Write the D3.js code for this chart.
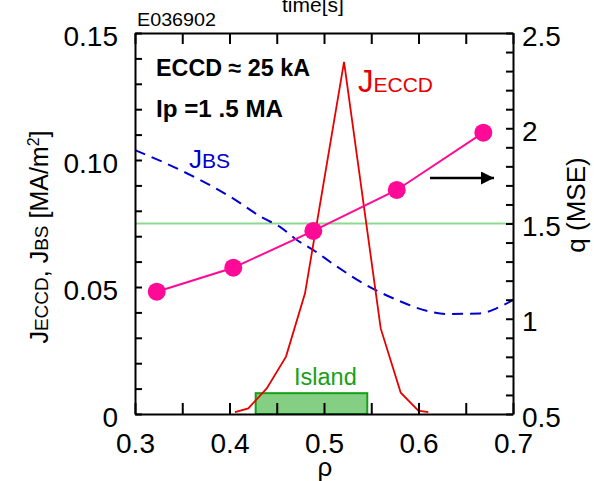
<!DOCTYPE html>
<html>
<head>
<meta charset="utf-8">
<script src="https://cdn.jsdelivr.net/npm/d3@7"></script>
<style>
  html, body { margin: 0; padding: 0; background: #fff; }
  svg { display: block; }
  text { font-family: "Liberation Sans", Arial, sans-serif; }
</style>
</head>
<body>
<svg id="chart" width="594" height="481"></svg>
<script>
// Normalised radius values and the current-density / safety-factor profiles
const qRho = [0.323, 0.404, 0.4887, 0.577, 0.6686];
const qValues = [1.142, 1.268, 1.461, 1.676, 1.977];

const bsRho = [0.30, 0.3476, 0.4005, 0.4354, 0.4534, 0.4714, 0.4884, 0.5138, 0.5413, 0.5772, 0.6122, 0.630, 0.665, 0.6825, 0.70];
const bsValues = [0.1039, 0.0961, 0.0856, 0.0772, 0.0737, 0.0685, 0.0646, 0.0580, 0.0515, 0.0449, 0.0403, 0.0394, 0.0396, 0.0416, 0.0449];

const eccdRho = [0.4058, 0.4199, 0.4394, 0.4598, 0.4799, 0.5212, 0.560, 0.5812, 0.5998, 0.6104];
const eccdValues = [0.0007, 0.0022, 0.0101, 0.0226, 0.0475, 0.1386, 0.0337, 0.0084, 0.0013, 0.0007];

const islandRange = [0.4277, 0.5458];
const qRational = 1.5;

const xTickValues = [0.3, 0.35, 0.4, 0.45, 0.5, 0.55, 0.6, 0.65, 0.7];
const xTickLabels = ["0.3", "0.4", "0.5", "0.6", "0.7"];
const jTickValues = d3.range(0, 16).map(i => i / 100);
const jTickLabels = ["0", "0.05", "0.10", "0.15"];
const qTickValues = d3.range(5, 26).map(i => i / 10);
const qTickLabels = ["0.5", "1", "1.5", "2", "2.5"];

const svg = d3.select("#chart");
const plotLeft = 135, plotRight = 513, plotTop = 33, plotBottom = 414;

const x = d3.scaleLinear().domain([0.3, 0.7]).range([plotLeft, plotRight]);
const yJ = d3.scaleLinear().domain([0, 0.15]).range([plotBottom, plotTop]);
const yQ = d3.scaleLinear().domain([0.5, 2.5]).range([plotBottom, plotTop]);

const red = "#e60000", blue = "#0000d0", pink = "#ff0a96", green = "#16a016";

// island region
svg.append("rect")
  .attr("x", x(islandRange[0]))
  .attr("y", yJ(0.0082))
  .attr("width", x(islandRange[1]) - x(islandRange[0]))
  .attr("height", yJ(0) - yJ(0.0082))
  .attr("fill", "#84cf84")
  .attr("stroke", green)
  .attr("stroke-width", 2);

svg.append("text")
  .attr("x", 294)
  .attr("y", 385)
  .attr("font-size", 23.5)
  .attr("fill", green)
  .text("Island");

// q = 1.5 surface
svg.append("line")
  .attr("x1", plotLeft).attr("x2", plotRight)
  .attr("y1", yQ(qRational)).attr("y2", yQ(qRational))
  .attr("stroke", "#8fd88f").attr("stroke-width", 2);

// bootstrap current
const lineBS = d3.line().x((d, i) => x(bsRho[i])).y(d => yJ(d)).curve(d3.curveMonotoneX);
svg.append("path")
  .attr("d", lineBS(bsValues))
  .attr("fill", "none").attr("stroke", blue)
  .attr("stroke-width", 2).attr("stroke-dasharray", "11,7");

// ECCD current
const lineE = d3.line().x((d, i) => x(eccdRho[i])).y(d => yJ(d));
svg.append("path")
  .attr("d", lineE(eccdValues))
  .attr("fill", "none").attr("stroke", red).attr("stroke-width", 1.8);

// q profile
const lineQ = d3.line().x((d, i) => x(qRho[i])).y(d => yQ(d));
svg.append("path")
  .attr("d", lineQ(qValues))
  .attr("fill", "none").attr("stroke", pink).attr("stroke-width", 2);
svg.selectAll("circle.q").data(qValues).enter().append("circle")
  .attr("class", "q")
  .attr("cx", (d, i) => x(qRho[i])).attr("cy", d => yQ(d))
  .attr("r", 9).attr("fill", pink);

// arrow pointing to the q axis
const defs = svg.append("defs");
defs.append("marker").attr("id", "head")
  .attr("viewBox", "0 0 10 10").attr("refX", 10).attr("refY", 5)
  .attr("markerWidth", 7).attr("markerHeight", 5).attr("markerUnits", "strokeWidth")
  .attr("orient", "auto")
  .append("path").attr("d", "M0,0L10,5L0,10Z").attr("fill", "#000");
svg.append("line")
  .attr("x1", 430).attr("x2", 494).attr("y1", 178).attr("y2", 178)
  .attr("stroke", "#000").attr("stroke-width", 2.6).attr("marker-end", "url(#head)");

// axes: ticks point inward on all four sides
function styleAxis(g) {
  g.select(".domain").attr("stroke", "#000").attr("stroke-width", 2);
  g.selectAll(".tick line").attr("stroke", "#000").attr("stroke-width", 2);
  g.selectAll(".tick text").attr("font-family", "Liberation Sans, Arial, sans-serif")
    .attr("font-size", 28).attr("fill", "#000");
}
const fmtX = v => {
  const r = Math.round(v * 100);
  return r % 10 === 0 ? xTickLabels[(r - 30) / 10] : "";
};
svg.append("g").attr("transform", `translate(0,${plotBottom})`)
  .call(d3.axisBottom(x).tickValues(xTickValues).tickSize(-11).tickSizeOuter(0).tickPadding(39).tickFormat(fmtX))
  .call(styleAxis)
  .call(g => g.selectAll(".tick text").attr("dy", 0));
svg.append("g").attr("transform", `translate(0,${plotTop})`)
  .call(d3.axisTop(x).tickValues(xTickValues).tickSize(-11).tickSizeOuter(0).tickFormat(""))
  .call(styleAxis);

const fmtJ = v => {
  const r = Math.round(v * 100);
  if (r % 5 !== 0) return "";
  return jTickLabels[r / 5];
};
svg.append("g").attr("transform", `translate(${plotLeft},0)`)
  .call(d3.axisLeft(yJ).tickValues(jTickValues).tickSize(-7).tickSizeOuter(0).tickPadding(17).tickFormat(fmtJ))
  .call(styleAxis)
  .call(g => g.selectAll(".tick text").attr("dy", 12));

const fmtQ = v => {
  const r = Math.round(v * 10);
  if (r % 5 !== 0) return "";
  return qTickLabels[r / 5 - 1];
};
svg.append("g").attr("transform", `translate(${plotRight},0)`)
  .call(d3.axisRight(yQ).tickValues(qTickValues).tickSize(-7).tickSizeOuter(0).tickPadding(9).tickFormat(fmtQ))
  .call(styleAxis)
  .call(g => g.selectAll(".tick text").attr("dy", 12));

// axis titles
svg.append("text")
  .attr("x", 325).attr("y", 476).attr("text-anchor", "middle")
  .attr("font-size", 26).text("ρ");

const yTitle = svg.append("text")
  .attr("transform", "translate(48,237) rotate(-90)")
  .attr("text-anchor", "middle").attr("font-size", 25);
yTitle.append("tspan").text("J");
yTitle.append("tspan").attr("font-size", 19).text("ECCD");
yTitle.append("tspan").text(", J");
yTitle.append("tspan").attr("font-size", 19).text("BS");
yTitle.append("tspan").text(" [MA/m");
yTitle.append("tspan").attr("font-size", 16).attr("dy", -9).text("2");
yTitle.append("tspan").attr("dy", 9).text("]");

svg.append("text")
  .attr("transform", "translate(585,205) rotate(-90)")
  .attr("text-anchor", "middle").attr("font-size", 26).text("q (MSE)");

// curve labels
const lblE = svg.append("text").attr("x", 358).attr("y", 92).attr("fill", red).attr("font-size", 31);
lblE.append("tspan").text("J");
lblE.append("tspan").attr("font-size", 21).text("ECCD");

const lblB = svg.append("text").attr("x", 189).attr("y", 168).attr("fill", blue).attr("font-size", 26);
lblB.append("tspan").text("J");
lblB.append("tspan").attr("font-size", 21).text("BS");

// discharge annotations
const bold = "Lato, 'Open Sans', sans-serif";
svg.append("text").attr("x", 156).attr("y", 76).attr("font-family", bold)
  .attr("font-weight", 900).attr("font-size", 23.5)
  .attr("textLength", 154).attr("lengthAdjust", "spacingAndGlyphs").text("ECCD ≈ 25 kA");
svg.append("text").attr("x", 156).attr("y", 117).attr("font-family", bold)
  .attr("font-weight", 900).attr("font-size", 23.5)
  .attr("textLength", 127).attr("lengthAdjust", "spacingAndGlyphs").text("Ip =1 .5 MA");

svg.append("text").attr("x", 137).attr("y", 26).attr("font-size", 18)
  .attr("textLength", 79).attr("lengthAdjust", "spacingAndGlyphs").text("E036902");
svg.append("text").attr("x", 282).attr("y", 12).attr("font-size", 21).text("time[s]");
</script>
</body>
</html>
